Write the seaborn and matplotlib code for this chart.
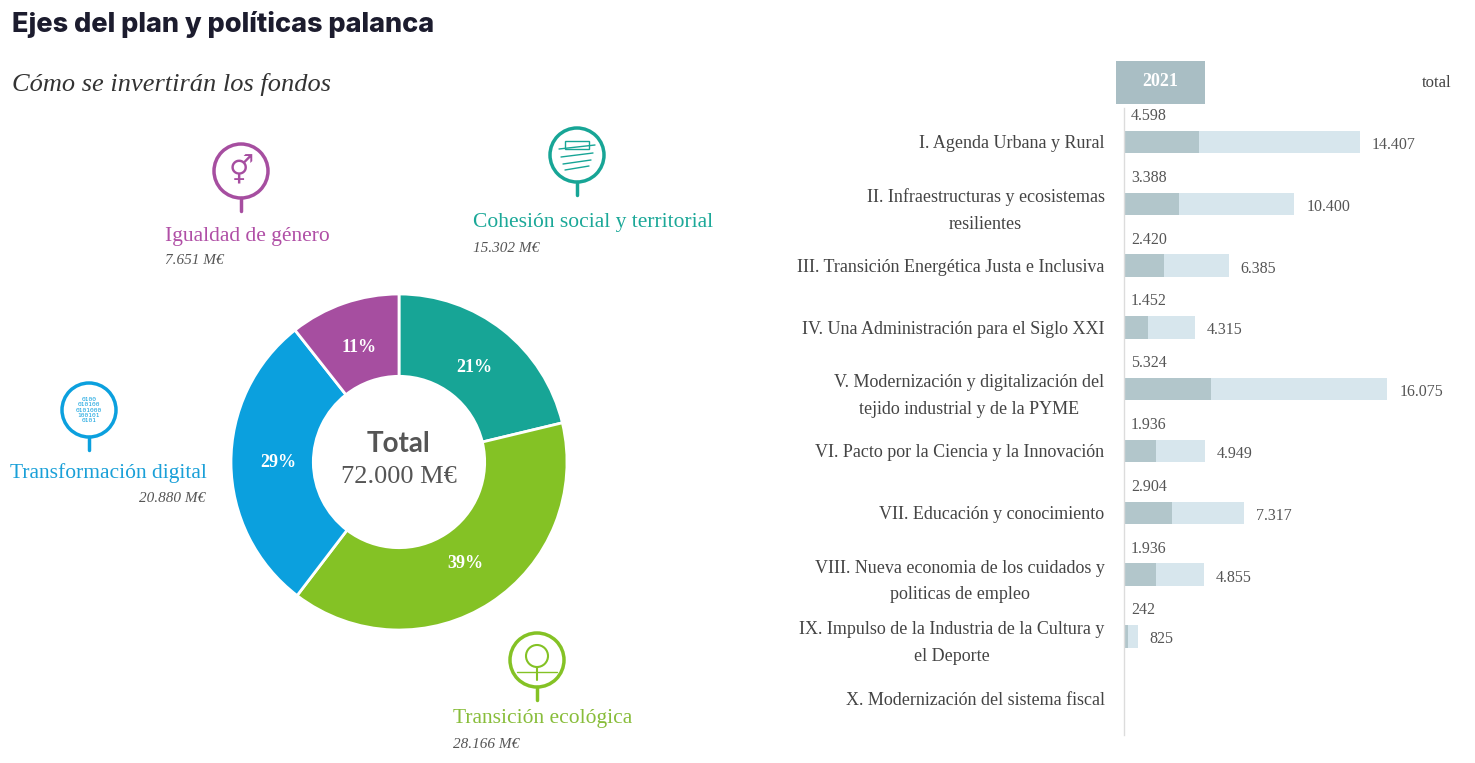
import seaborn as sns
import matplotlib.pyplot as plt
import pandas as pd
from matplotlib.patches import Circle, Rectangle

# Donut data (M€), clockwise from the top
areas = ["Cohesión social y territorial", "Transición ecológica",
         "Transformación digital", "Igualdad de género"]
area_values = [15302, 28166, 20880, 7651]
area_colors = ["#17a596", "#84c225", "#0ba0de", "#a64ea0"]
area_text_colors = ["#1ba898", "#88bd3a", "#1aa0d8", "#b04fa6"]

# Bar data (M€)
ejes = [
    "I. Agenda Urbana y Rural",
    "II. Infraestructuras y ecosistemas\nresilientes",
    "III. Transición Energética Justa e Inclusiva",
    "IV. Una Administración para el Siglo XXI",
    "V. Modernización y digitalización del\ntejido industrial y de la PYME",
    "VI. Pacto por la Ciencia y la Innovación",
    "VII. Educación y conocimiento",
    "VIII. Nueva economia de los cuidados y\npoliticas de empleo",
    "IX. Impulso de la Industria de la Cultura y\nel Deporte",
    "X. Modernización del sistema fiscal",
]
total = [14407, 10400, 6385, 4315, 16075, 4949, 7317, 4855, 825, None]
y2021 = [4598, 3388, 2420, 1452, 5324, 1936, 2904, 1936, 242, None]

W, H = 1475, 763
SERIF = ["Liberation Serif", "DejaVu Serif"]
GREY = "#555555"
LIGHT = "#d7e6ed"
DARK = "#b2c6cb"


def fmt(v):
    return f"{int(v):,}".replace(",", ".")


def px_rect(x0, y0, x1, y1):
    return [x0 / W, 1 - y1 / H, (x1 - x0) / W, (y1 - y0) / H]


sns.set_theme(style="white")
plt.rcParams["font.family"] = SERIF

fig = plt.figure(figsize=(W / 100, H / 100), dpi=100)

# ---- donut ----
cx, cy, r = 399, 462, 168
lim = 1.05
axd = fig.add_axes(px_rect(cx - r * lim, cy - r * lim, cx + r * lim, cy + r * lim))
wedges, _, pcts = axd.pie(
    area_values, colors=area_colors, startangle=90, counterclock=False,
    wedgeprops=dict(width=0.49, edgecolor="white", linewidth=2),
    autopct=lambda p: f"{p:.0f}%", pctdistance=0.72,
    textprops=dict(color="white", fontsize=13, fontweight="bold", family=SERIF),
)
axd.set_xlim(-lim, lim)
axd.set_ylim(-lim, lim)
axd.set_aspect("equal")
axd.text(0, 0.11, "Total", ha="center", va="center", fontsize=20,
         fontweight="bold", color=GREY, family=["Lato", "DejaVu Sans"])
axd.text(0, -0.09, "72.000 M€", ha="center", va="center", fontsize=19,
         color=GREY, family=SERIF)

# ---- bars ----
df = pd.DataFrame({"eje": ejes, "total": total, "y2021": y2021})
axb = fig.add_axes(px_rect(1124, 108, W, 735))
sns.barplot(data=df, y="eje", x="total", order=ejes, color=LIGHT, width=0.36,
            saturation=1, linewidth=0, ax=axb)
sns.barplot(data=df, y="eje", x="y2021", order=ejes, color=DARK, width=0.36,
            saturation=1, linewidth=0, ax=axb)
scale = 0.01638  # px per M€
axb.set_xlim(0, (W - 1124) / scale)
axb.set_ylim((735 - 142) / 61.8, (108 - 142) / 61.8)
axb.set_xlabel("")
axb.set_ylabel("")
axb.set_xticks([])
axb.set_yticks(range(len(ejes)))
axb.set_yticklabels(ejes, fontsize=13, color="#444444", linespacing=1.75)
for lbl in axb.get_yticklabels():
    lbl.set_multialignment("center")
axb.tick_params(axis="y", length=0, pad=14)
for s in ["top", "right", "bottom"]:
    axb.spines[s].set_visible(False)
axb.spines["left"].set_color("#dcdcdc")
axb.spines["left"].set_linewidth(1)

for i, (t, v) in enumerate(zip(total, y2021)):
    if t is None or pd.isna(t):
        continue
    axb.annotate(fmt(v), xy=(0, i), xytext=(7, 26), textcoords="offset pixels",
                 ha="left", va="center", fontsize=11.5, color=GREY)
    axb.annotate(fmt(t), xy=(t, i), xytext=(12, -3), textcoords="offset pixels",
                 ha="left", va="center", fontsize=11.5, color=GREY)

# ---- overlay for titles, labels and icons (pixel coordinates) ----
ov = fig.add_axes([0, 0, 1, 1])
ov.set_xlim(0, W)
ov.set_ylim(H, 0)
ov.axis("off")
ov.patch.set_alpha(0)

ov.text(12, 25, "Ejes del plan y políticas palanca", ha="left", va="center",
        fontsize=19.5, fontweight="heavy", color="#1c1c2e",
        family=["Inter", "DejaVu Sans"])
ov.text(12, 85, "Cómo se invertirán los fondos", ha="left", va="center",
        fontsize=19, style="italic", color="#333333", family=SERIF)

# header of the bar chart
ov.add_patch(Rectangle((1116, 61), 89, 43, color="#a9bec4", lw=0))
ov.text(1160, 82, "2021", ha="center", va="center", fontsize=13,
        color="white", fontweight="bold")
ov.text(1452, 83, "total", ha="right", va="center", fontsize=12, color="#444444")

# area labels: (x, y, ha)
label_pos = [(473, 223, "left"), (453, 719, "left"),
             (207, 473, "right"), (165, 236, "left")]
for name, val, col, (x, y, ha) in zip(areas, area_values, area_text_colors, label_pos):
    ov.text(x, y, name, ha=ha, va="center", fontsize=15.5, color=col)
    ov.text(x - 2 if ha == "right" else x, y + 25, f"{fmt(val)} M€", ha=ha,
            va="center", fontsize=11, style="italic", color="#555555")

# pin icons
icons = [(577, 155), (537, 660), (89, 410), (241, 171)]
for (ix, iy), col, area in zip(icons, area_colors, areas):
    ov.add_patch(Circle((ix, iy), 27, fill=False, ec=col, lw=2.5))
    ov.plot([ix, ix], [iy + 27, iy + 40], color=col, lw=2.5,
            solid_capstyle="round")
    if area.startswith("Igualdad"):
        ov.text(ix, iy + 1, "⚥", ha="center", va="center", fontsize=20,
                color=col, family=["DejaVu Sans"])
    elif area.startswith("Transformación"):
        ov.text(ix, iy, "0100\n010100\n0101000\n100101\n0101", ha="center",
                va="center", fontsize=4.5, color=col, linespacing=1.1,
                family=["DejaVu Sans Mono"])
    elif area.startswith("Cohesión"):
        for k, dy in enumerate([-6, 2, 9, 15]):
            ov.plot([ix - 18 + k * 2, ix + 18 - k * 2], [iy + dy, iy + dy - 4],
                    color=col, lw=1)
        ov.add_patch(Rectangle((ix - 12, iy - 14), 24, 8, fill=False,
                               ec=col, lw=1))
    else:
        ov.add_patch(Circle((ix, iy - 4), 11, fill=False, ec=col, lw=1.5))
        ov.plot([ix, ix], [iy + 7, iy + 20], color=col, lw=1.5)
        ov.plot([ix - 20, ix + 20], [iy + 12, iy + 12], color=col, lw=1)

fig.savefig("out.png", dpi=100)
print("saved out.png")
